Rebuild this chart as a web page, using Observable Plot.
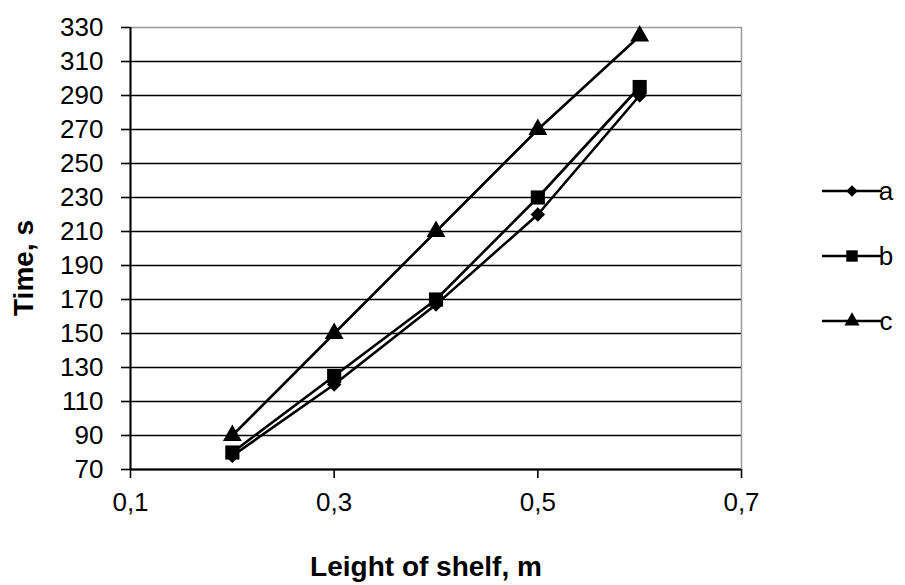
<!DOCTYPE html>
<html><head><meta charset="utf-8">
<script src="https://cdn.jsdelivr.net/npm/d3@7"></script>
<script src="https://cdn.jsdelivr.net/npm/@observablehq/plot@0.6"></script>
<style>body{margin:0;background:#fff;} svg{font-family:"Liberation Sans",Arial,sans-serif;}</style>
</head><body><div id="chart"></div>
<script>
const lengths = [0.2, 0.3, 0.4, 0.5, 0.6];
const seriesA = [78, 120, 167, 220, 290];
const seriesB = [80, 125, 170, 230, 295];
const seriesC = [90, 150, 210, 270, 325];
const seriesNames = ["a", "b", "c"];
const seriesSymbols = ["diamond2", "square2", "triangle2"];
const seriesR = [6.5, 9, 9];
const xTicks = [0.1, 0.3, 0.5, 0.7];
const yTicks = [70, 90, 110, 130, 150, 170, 190, 210, 230, 250, 270, 290, 310, 330];

const allSeries = [seriesA, seriesB, seriesC];
const data = [];
allSeries.forEach((vals, si) => vals.forEach((v, i) => data.push({x: lengths[i], y: v, s: seriesNames[si], sym: seriesSymbols[si], r: seriesR[si]})));

const W = 905, H = 585;
const plot = Plot.plot({
  width: W, height: H,
  marginLeft: 130, marginRight: 164, marginTop: 27, marginBottom: 116,
  style: {fontFamily: "'Liberation Sans', Arial, sans-serif", fontSize: "26px", color: "#000", background: "#fff"},
  x: {domain: [0.1, 0.7], ticks: xTicks, tickFormat: d => d.toFixed(1).replace(".", ","), label: null},
  y: {domain: [70, 330], ticks: yTicks, label: null},
  symbol: {type: "identity"},
  r: {type: "identity"},
  marks: [
    Plot.gridY(yTicks.filter(t => t < 330), {stroke: "#000", strokeOpacity: 1, strokeWidth: 1.6}),
    Plot.frame({stroke: "#999", strokeWidth: 1.5}),
    Plot.ruleY([70], {stroke: "#000", strokeWidth: 2}),
    Plot.ruleX([0.1], {stroke: "#000", strokeWidth: 2}),
    Plot.axisY({ticks: yTicks, tickSize: 9, tickPadding: 18, fontSize: 26, stroke: "#000", strokeWidth: 1.6}),
    Plot.axisX({ticks: xTicks, tickSize: 9, tickPadding: 14, fontSize: 26, stroke: "#000", strokeWidth: 1.6, tickFormat: d => d.toFixed(1).replace(".", ",")}),
    Plot.line(data, {x: "x", y: "y", z: "s", stroke: "#000", strokeWidth: 2.6}),
    Plot.dot(data, {x: "x", y: "y", symbol: "sym", r: "r", fill: "#000", stroke: "none"})
  ]
});
plot.setAttribute("overflow", "visible");

const svg = d3.select(plot);
// axis titles
svg.append("text").attr("x", 426).attr("y", 576).attr("text-anchor", "middle")
  .attr("font-weight", "bold").attr("font-size", 28).attr("fill", "#000").text("Leight of shelf, m");
svg.append("text").attr("transform", "translate(33,268) rotate(-90)").attr("text-anchor", "middle")
  .attr("font-weight", "bold").attr("font-size", 28).attr("fill", "#000").text("Time, s");

// legend
const legendY = [191, 256, 321];
const sym = {diamond2: d3.symbolDiamond2, square2: d3.symbolSquare2, triangle2: d3.symbolTriangle2};
seriesNames.forEach((name, i) => {
  const g = svg.append("g").attr("transform", `translate(0,${legendY[i]})`);
  g.append("line").attr("x1", 822).attr("x2", 882).attr("y1", 0).attr("y2", 0).attr("stroke", "#000").attr("stroke-width", 2.6);
  g.append("path").attr("transform", "translate(852,0)")
    .attr("d", d3.symbol(sym[seriesSymbols[i]], Math.PI * seriesR[i] * seriesR[i] * 0.65)()).attr("fill", "#000");
  g.append("text").attr("x", 886).attr("y", 0).attr("dy", "0.35em").attr("font-size", 26).attr("fill", "#000").text(name);
});

document.getElementById("chart").appendChild(plot);
</script>
</body></html>
